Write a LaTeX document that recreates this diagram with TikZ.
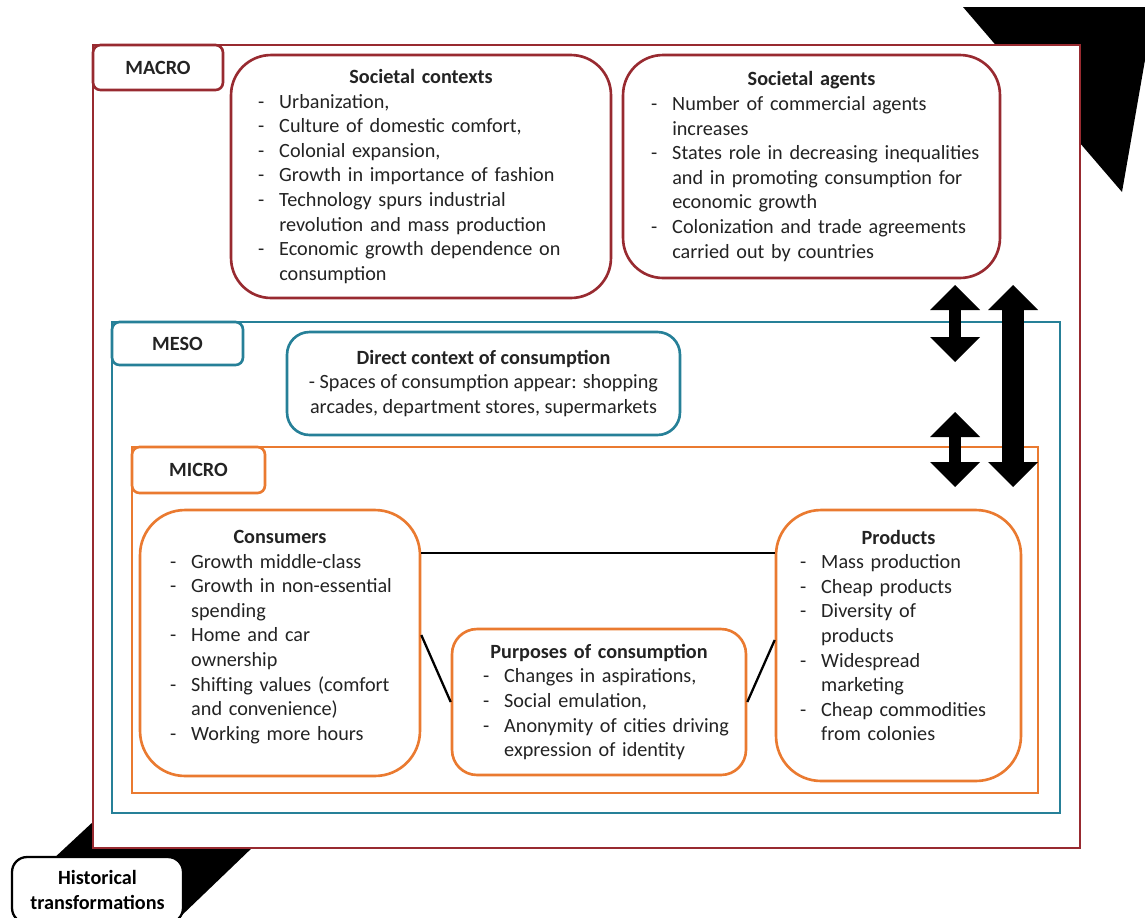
\documentclass[tikz,border=0pt]{standalone}
\usepackage{fontspec}
\setmainfont{Carlito}
\usepackage{xcolor}
\usetikzlibrary{arrows.meta}
\definecolor{macrored}{RGB}{152,42,48}
\definecolor{mesoblue}{RGB}{38,128,152}
\definecolor{microorange}{RGB}{234,122,48}
\definecolor{txt}{RGB}{35,35,35}
\newlength\lpad
\newcommand{\di}[1]{\par\leftskip=\lpad\hangindent=1.05em\hangafter=1\noindent\makebox[1.05em][l]{-}#1}

\begin{document}
\begin{tikzpicture}[x=0.02cm,y=-0.02cm]
%
\tikzstyle{rbox}=[draw,shape=rectangle,line width=1.5pt,fill=white,text=txt,font=\fontsize{11.5}{14}\selectfont,inner ysep=0pt,inner xsep=0.08cm]
\tikzstyle{tag}=[draw,shape=rectangle,line width=1.5pt,fill=white,rounded corners=0.15cm,font=\fontsize{11.5}{14}\selectfont\bfseries,text=txt]
\tikzstyle{frame}=[line width=1.6pt]
\tikzstyle{link}=[line width=1.3pt]
\tikzstyle{dbl}=[{Triangle[width=1cm,length=0.5cm,line width=0pt]}-{Triangle[width=1cm,length=0.5cm,line width=0pt]}]
%
\useasboundingbox (0,0) rectangle (1145,917);
\clip (0,0) rectangle (1145,917);
%
\fill (963,7) -- (1145,7) -- (1145,60) -- (1122,192) -- cycle;
\fill (52,860) -- (95,820) -- (255,845) -- (180,917) -- cycle;
%
\draw[frame,macrored,fill=white] (93,45) rectangle (1080,848);
\draw[frame,mesoblue] (112,322) rectangle (1060,813);
\draw[frame,microorange] (132,447) rectangle (1038,793);
%
\node[tag,draw=macrored,minimum width=2.6cm,minimum height=0.9cm](macro) at (158,67.5){MACRO};
\node[tag,draw=mesoblue,minimum width=2.62cm,minimum height=0.86cm](meso) at (177.5,343.5){MESO};
\node[tag,draw=microorange,minimum width=2.66cm,minimum height=0.92cm](micro) at (198.5,470){MICRO};
%
\node[rbox,draw=macrored,rounded corners=0.8cm,text width=7.44cm,minimum height=4.86cm](ctx) at (421,176.5){%
\setlength\lpad{0.46cm}\raggedright
{\centering\bfseries Societal contexts\par}%
\di{Urbanization,}%
\di{Culture of domestic comfort,}%
\di{Colonial expansion,}%
\di{Growth in importance of fashion}%
\di{Technology spurs industrial\newline revolution and mass production}%
\di{Economic growth dependence on\newline consumption}\par};
\node[rbox,draw=macrored,rounded corners=0.8cm,text width=7.38cm,minimum height=4.46cm](agents) at (811.5,166.5){%
\setlength\lpad{0.48cm}\raggedright
{\centering\bfseries Societal agents\par}%
\di{Number of commercial agents\newline increases}%
\di{States role in decreasing inequalities\newline and in promoting consumption for\newline economic growth}%
\di{Colonization and trade agreements\newline carried out by countries}\par};
%
\node[rbox,draw=mesoblue,rounded corners=0.45cm,align=center,minimum width=7.86cm,minimum height=2.06cm](direct) at (483.5,383.5){%
\textbf{Direct context of consumption}\\- Spaces of consumption appear: shopping\\arcades, department stores, supermarkets};
%
\node[rbox,draw=microorange,rounded corners=0.9cm,text width=5.44cm,minimum height=5.32cm](cons) at (280,643){%
\setlength\lpad{0.52cm}\raggedright
{\centering\bfseries Consumers\par}%
\di{Growth middle-class}%
\di{Growth in non-essential\newline spending}%
\di{Home and car\newline ownership}%
\di{Shifting values (comfort\newline and convenience)}%
\di{Working more hours}\par\vspace{0.24cm}};
\node[rbox,draw=microorange,rounded corners=0.5cm,text width=5.72cm,minimum height=2.92cm](purp) at (599,702){%
\setlength\lpad{0.54cm}\raggedright
{\centering\bfseries Purposes of consumption\par}%
\di{Changes in aspirations,}%
\di{Social emulation,}%
\di{Anonymity of cities driving\newline expression of identity}\par};
\node[rbox,draw=microorange,rounded corners=0.9cm,text width=4.74cm,minimum height=5.42cm](prod) at (898.5,645.5){%
\setlength\lpad{0.40cm}\raggedright
{\centering\bfseries Products\par}%
\di{Mass production}%
\di{Cheap products}%
\di{Diversity of\newline products}%
\di{Widespread\newline marketing}%
\di{Cheap commodities\newline from colonies}\par\vspace{0.4cm}};
%
\node[tag,draw=black,text=black,rounded corners=0.3cm,line width=1.3pt,minimum width=3.42cm,minimum height=1.32cm,align=center](hist) at (97.5,890){Historical\\transformations};
%
\draw[link] ([yshift=1.8cm]cons.east) -- ([yshift=1.8cm]cons.east -| prod.west);
\draw[link] ([yshift=0.16cm]cons.east) -- (purp.west);
\draw[link] (purp.east) -- ([yshift=0.11cm]prod.west);
%
\coordinate (a1t) at (955,285);
\coordinate (a1b) at (955,362);
\coordinate (a2t) at (955,412);
\coordinate (a2b) at (955,487);
\coordinate (a3t) at (1013,285);
\coordinate (a3b) at (1013,487);
\draw[dbl,line width=0.24cm] (a1t) -- (a1b);
\draw[dbl,line width=0.24cm] (a2t) -- (a2b);
\draw[dbl,line width=0.44cm] (a3t) -- (a3b);
\end{tikzpicture}
\end{document}
